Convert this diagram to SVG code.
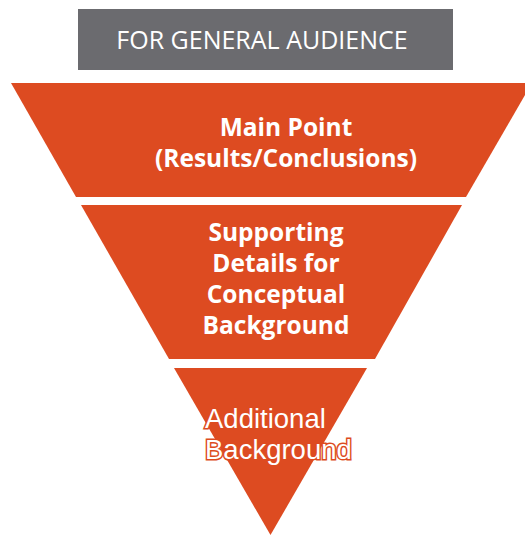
<svg xmlns="http://www.w3.org/2000/svg" width="525" height="536" viewBox="0 0 525 536">
<style>
.seg{fill:#DD4B21}
.lbl{font-family:"Open Sans","Liberation Sans",sans-serif;font-weight:700;fill:#fff;text-anchor:middle;font-size:24.5px}
.hdr{font-family:"Open Sans","Liberation Sans",sans-serif;font-weight:400;fill:#fff;text-anchor:middle;font-size:25px}
.add{font-family:"Liberation Sans",Arial,sans-serif;fill:#fff;stroke:#DD4B21;stroke-width:3;paint-order:stroke;font-size:27.5px}
</style>
<rect width="525" height="536" fill="#fff"/>
<g id="header">
<rect x="78" y="9" width="375" height="61" fill="#6B6B6F"/>
<text class="hdr" x="262" y="49">FOR GENERAL AUDIENCE</text>
</g>
<g id="main-point">
<polygon class="seg" points="11,83 532,83 466,197 76,197"/>
<text class="lbl" x="286" y="136">Main Point</text>
<text class="lbl" x="286" y="167">(Results/Conclusions)</text>
</g>
<g id="supporting-details">
<polygon class="seg" points="81,205 462,205 375,359 169,359"/>
<text class="lbl" x="276" y="241">Supporting</text>
<text class="lbl" x="276" y="272">Details for</text>
<text class="lbl" x="276" y="303">Conceptual</text>
<text class="lbl" x="276" y="334">Background</text>
</g>
<g id="additional-background">
<polygon class="seg" points="174,368 367,368 270.5,535"/>
<text class="add" x="205" y="428">Additional</text>
<text class="add" x="205" y="459">Background</text>
</g>
<g id="connectors"/>
</svg>
